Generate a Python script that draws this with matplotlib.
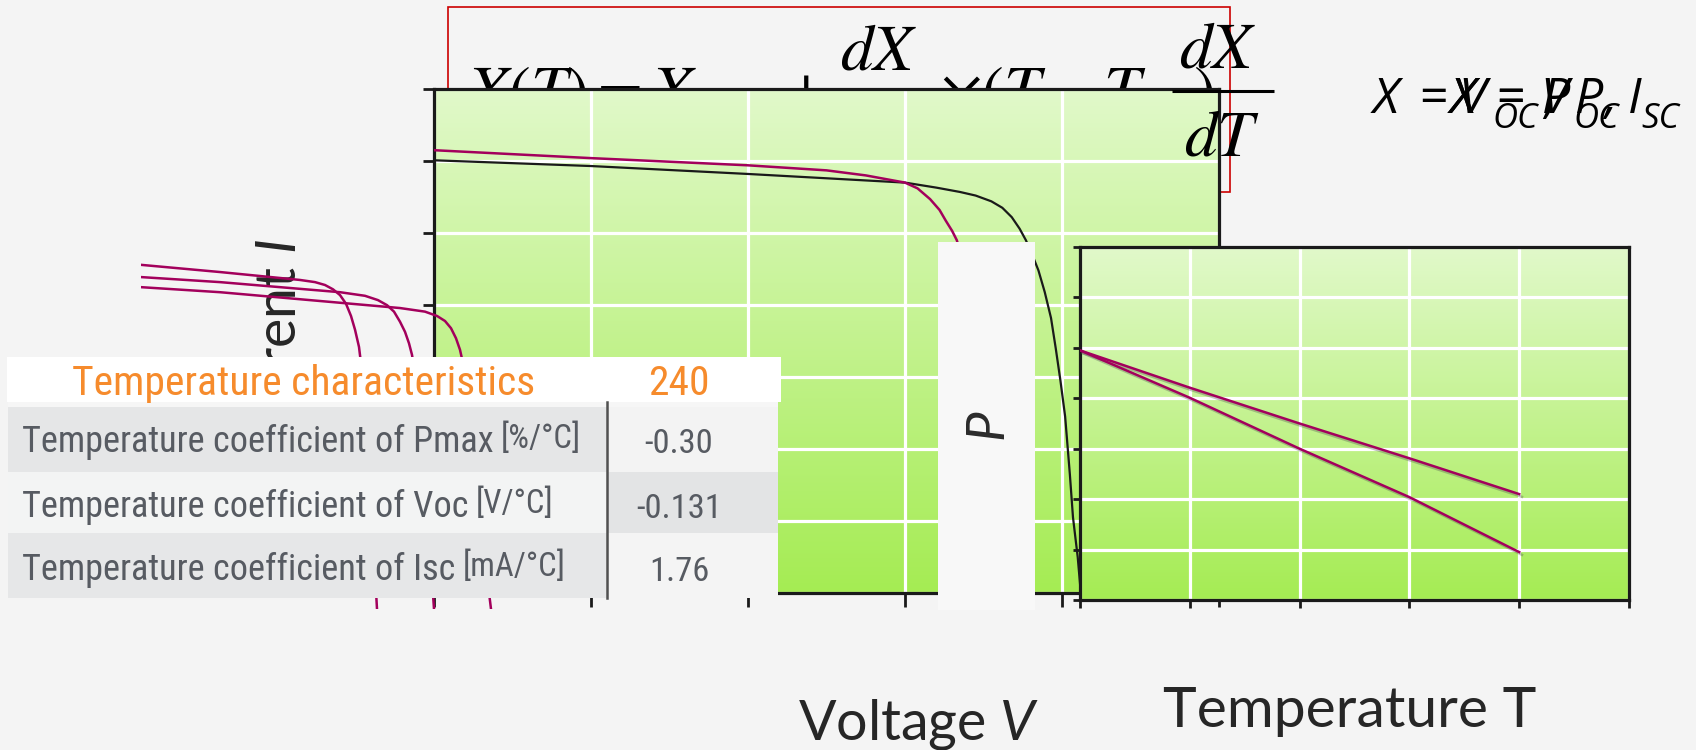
import matplotlib
matplotlib.use("Agg")
import matplotlib.pyplot as plt
import numpy as np
from matplotlib.patches import Rectangle
from matplotlib.colors import LinearSegmentedColormap
from matplotlib import font_manager as fm
import matplotlib.patheffects as pe

# ---------------- data ----------------
# main I-V chart (voltage units 0..5, current units 0..7)
iv_v_ref = [0, 1, 2, 2.5, 3.0, 3.2, 3.35, 3.45, 3.55, 3.62, 3.68, 3.73, 3.77,
            3.81, 3.85, 3.89, 3.93, 3.96, 3.99, 4.02, 4.05, 4.07, 4.10, 4.12]
iv_i_ref = [6.01, 5.93, 5.82, 5.76, 5.70, 5.63, 5.57, 5.52, 5.44, 5.35, 5.22,
            5.06, 4.90, 4.70, 4.48, 4.18, 3.82, 3.40, 2.95, 2.45, 1.65, 1.05,
            0.50, 0.0]
iv_v_hot = [0, 1, 2, 2.5, 2.75, 2.9, 3.0, 3.08, 3.16, 3.22, 3.26, 3.30, 3.33,
            3.37, 3.41, 3.45, 3.50, 3.55, 3.60, 3.66]
iv_i_hot = [6.15, 6.04, 5.94, 5.87, 5.80, 5.74, 5.70, 5.62, 5.47, 5.32, 5.17,
            5.03, 4.90, 4.60, 4.20, 3.75, 3.10, 2.30, 1.45, 0.0]

# family of I-V curves drawn at the left (its own hidden scale)
fam_v1 = [0, 0.79, 1.59, 1.74, 1.84, 1.92, 1.99, 2.05, 2.10, 2.14, 2.18, 2.22,
          2.26, 2.31, 2.36]
fam_i1 = [4.78, 4.68, 4.57, 4.54, 4.50, 4.44, 4.36, 4.24, 4.07, 3.88, 3.64,
          3.18, 2.49, 1.24, 0.0]
fam_v2 = [0, 0.79, 1.99, 2.24, 2.37, 2.46, 2.53, 2.59, 2.64, 2.68, 2.71, 2.75,
          2.79, 2.84, 2.89, 2.93]
fam_i2 = [4.61, 4.54, 4.40, 4.35, 4.29, 4.22, 4.13, 3.99, 3.85, 3.69, 3.53,
          3.18, 2.69, 1.79, 0.82, 0.0]
fam_v3 = [0, 0.79, 2.59, 2.84, 2.96, 3.04, 3.10, 3.15, 3.19, 3.23, 3.27, 3.32,
          3.38, 3.44, 3.50]
fam_i3 = [4.47, 4.40, 4.18, 4.13, 4.07, 4.00, 3.90, 3.76, 3.60, 3.35, 2.97,
          2.35, 1.51, 0.68, 0.0]

# P vs T chart
temp_t = [0, 1, 2, 3, 4]
p_line1 = [4.95, 4.21, 3.50, 2.81, 2.10]
p_line2 = [4.95, 4.01, 3.00, 2.04, 0.95]

# table
table_title = "Temperature characteristics"
table_model = "240"
table_labels = ["Temperature coefficient of Pmax",
                "Temperature coefficient of Voc",
                "Temperature coefficient of Isc"]
table_units = ["[%/°C]", "[V/°C]", "[mA/°C]"]
table_values = ["-0.30", "-0.131", "1.76"]

# overlapping "X = ..." definitions at top right: (text, x, is_subscript)
def_a = [("X", 1373, False), ("=", 1418, False), ("V", 1458, False),
         ("OC", 1492, True), (",", 1544, False), ("P", 1575, False),
         (",", 1604, False), ("I", 1628, False), ("SC", 1641, True)]
def_b = [("X", 1450, False), ("=", 1495, False), ("V", 1540, False),
         ("OC", 1573, True)]
def_c = [("X", 1450, False), ("=", 1495, False), ("P", 1542, False)]

# ---------------- style ----------------
W, H = 1696, 750
plt.rcParams["font.family"] = ["Lato", "DejaVu Sans"]
plt.rcParams["mathtext.fontset"] = "custom"
plt.rcParams["mathtext.rm"] = "Lato"
plt.rcParams["mathtext.it"] = "Lato:italic"
plt.rcParams["mathtext.bf"] = "Lato:bold"

MAG = "#a3005c"
INK = "#1a1a1a"
BG = "#f4f4f4"
grad = LinearSegmentedColormap.from_list("g", ["#a5ec53", "#e1f9ca"])


def narrow_font():
    prefs = ["LiberationSansNarrow-Regular", "RobotoCondensed-Regular",
             "OpenSans_Condensed-Regular", "OpenSansCondensed-Regular",
             "DejaVuSansCondensed."]
    files = [f.fname for f in fm.fontManager.ttflist]
    for p in prefs:
        for f in files:
            if p in f.split("/")[-1]:
                return fm.FontProperties(fname=f)
    return fm.FontProperties(family=["Lato", "DejaVu Sans"])


TFP = narrow_font()

fig = plt.figure(figsize=(W / 100, H / 100), dpi=100, facecolor=BG)
renderer = fig.canvas.get_renderer()


def box(l, t, r, b):
    return [l / W, 1 - b / H, (r - l) / W, (b - t) / H]


def layer(z):
    a = fig.add_axes([0, 0, 1, 1], zorder=z)
    a.set_xlim(0, W)
    a.set_ylim(H, 0)
    a.set_axis_off()
    return a


def ttext(ax, x, y, s, size, **kw):
    fp = TFP.copy()
    fp.set_size(size)
    return ax.text(x, y, s, fontproperties=fp, **kw)


def fit(ax, x, y, s, width, **kw):
    t = ttext(ax, x, y, s, 20, **kw)
    w = t.get_window_extent(renderer=renderer).width
    size = 20 * width / w
    t.remove()
    return ttext(ax, x, y, s, size, **kw), size


def green_axes(rect, z, lw_left, lw_bottom):
    ax = fig.add_axes(rect, zorder=z)
    ax.set_xlim(0, 5)
    ax.set_ylim(0, 7)
    ax.imshow(np.linspace(0, 1, 256).reshape(-1, 1), cmap=grad, origin="lower",
              extent=[0, 5, 0, 7], aspect="auto", zorder=-1)
    ax.set_xticks(range(6))
    ax.set_yticks(range(8))
    ax.grid(True, color="white", lw=2.3)
    ax.tick_params(labelleft=False, labelbottom=False, direction="out",
                   width=2, color=INK)
    ax.tick_params(axis="y", length=lw_left)
    ax.tick_params(axis="x", length=lw_bottom)
    for s in ax.spines.values():
        s.set_linewidth(2.3)
        s.set_color(INK)
    return ax


# ---------------- layer under the main chart: boxed formula ----------------
L0 = layer(0.5)
L0.add_patch(Rectangle((448, 7), 782, 185, fill=False, ec="#cc0000", lw=1.2))
eq_kw = dict(math_fontfamily="stix", fontsize=47, color="black", va="baseline")
L0.text(467, 111, r"$X(T)=X_{ref}$", ha="left", **eq_kw)
L0.text(805, 111, r"$+$", ha="center", **eq_kw)
L0.text(879, 70, r"$dX$", ha="center", **eq_kw)
L0.text(879, 156, r"$dT$", ha="center", **eq_kw)
L0.text(940, 111, r"$\times(T-T_{ref})$", ha="left", **eq_kw)

# ---------------- main I-V chart ----------------
ax = green_axes(box(434, 89, 1219, 593), 1, 8, 10)
ax.plot(iv_v_ref, iv_i_ref, color=INK, lw=1.6, zorder=3)
ax.plot(iv_v_hot, iv_i_hot, color=MAG, lw=1.8, zorder=3)

# ---------------- layer above the main chart ----------------
L1 = layer(1.5)
L1.text(1218, 68, r"$dX$", ha="center", **eq_kw)
L1.plot([1172, 1274], [91, 91], color="black", lw=2.2, solid_capstyle="butt")
L1.text(1222, 156, r"$dT$", ha="center", **eq_kw)
L1.text(280, 238, r"Current $I$", rotation=90, ha="center", va="top",
        fontsize=40, color="#262626", math_fontfamily="custom")
L1.text(798, 739, r"Voltage $V$", ha="left", va="baseline", fontsize=40,
        color="#262626", math_fontfamily="custom")
L1.text(1163, 727, "Temperature T", ha="left", va="baseline", fontsize=41,
        color="#262626")
for parts in (def_a, def_b, def_c):
    for s, x, sub in parts:
        L1.text(x, 128 if sub else 113, s, fontsize=25 if sub else 36,
                family=["Open Sans", "DejaVu Sans"], style="italic",
                color="black", ha="left", va="baseline")

# ---------------- family of curves at the left ----------------
axl = fig.add_axes(box(141, 240, 541, 609), zorder=2)
axl.set_xlim(0, 4)
axl.set_ylim(0, 5.125)
axl.set_axis_off()
for v, i in [(fam_v1, fam_i1), (fam_v2, fam_i2), (fam_v3, fam_i3)]:
    axl.plot(v, i, color=MAG, lw=1.8)

# ---------------- P label box ----------------
LP = layer(3)
LP.add_patch(Rectangle((938, 242), 97, 368, fc="#f8f8f8", ec="none"))
LP.text(987, 424, "P", rotation=90, ha="center", va="center", fontsize=38,
        style="italic", color="#2b2b2b")

# ---------------- P vs T chart ----------------
ax2 = green_axes(box(1080, 247, 1629, 600), 4, 5, 6)
shadow = [pe.SimpleLineShadow(offset=(2, -2), shadow_color="#555555", alpha=0.35),
          pe.Normal()]
ax2.plot(temp_t, p_line1, color=MAG, lw=1.8, path_effects=shadow, zorder=3)
ax2.plot(temp_t, p_line2, color=MAG, lw=1.8, path_effects=shadow, zorder=3)

# ---------------- table ----------------
LT = layer(5)
LT.add_patch(Rectangle((7, 357), 774, 45, fc="white", ec="none"))
LT.add_patch(Rectangle((8, 402), 770, 5, fc="#f6f6f6", ec="none"))
row_tops = [407, 472, 533]
row_bots = [472, 533, 598]
label_fc = ["#e5e6e7", "#f3f4f4", "#e6e7e8"]
value_fc = ["#f3f3f3", "#e3e4e5", "#f4f4f4"]
for k in range(3):
    LT.add_patch(Rectangle((8, row_tops[k]), 599, row_bots[k] - row_tops[k],
                           fc=label_fc[k], ec="none"))
    LT.add_patch(Rectangle((607, row_tops[k]), 171, row_bots[k] - row_tops[k],
                           fc=value_fc[k], ec="none"))
LT.plot([607, 607], [402, 598], color="#505050", lw=1.8)

ORANGE = "#f68b2c"
GREYTXT = "#575b62"
ht, hsize = fit(LT, 72, 395, table_title, 461, color=ORANGE, va="baseline")
ttext(LT, 679, 395, table_model, hsize, ha="center", va="baseline", color=ORANGE)
lt0, fs = fit(LT, 22, 452, table_labels[0], 471, color=GREYTXT, va="baseline")
baselines = [452, 517, 580]
for k in range(3):
    t = lt0 if k == 0 else ttext(LT, 22, baselines[k], table_labels[k], fs,
                                 color=GREYTXT, va="baseline")
    ext = t.get_window_extent(renderer=renderer)
    ttext(LT, ext.x1 + 7, baselines[k] - 4, table_units[k], fs * 0.9,
          color=GREYTXT, va="baseline")
    ttext(LT, 679, baselines[k] + 1, table_values[k], fs * 0.95, ha="center",
          va="baseline", color=GREYTXT)

fig.savefig("out.png", dpi=100, facecolor=BG)
